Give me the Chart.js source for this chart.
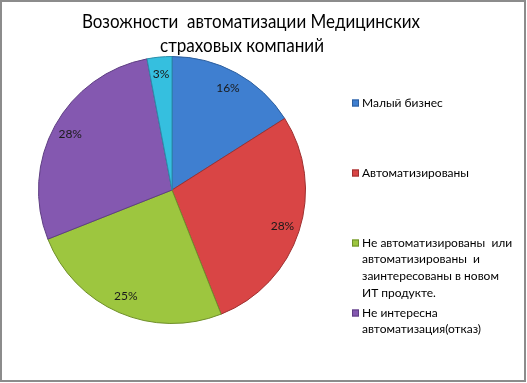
<!DOCTYPE html>
<html>
<head>
<meta charset="utf-8">
<script src="https://cdn.jsdelivr.net/npm/chart.js@4/dist/chart.umd.min.js"></script>
<style>
html,body{margin:0;padding:0;background:#fff;}
#wrap{position:absolute;left:0;top:0;width:527px;height:383px;}
</style>
</head>
<body>
<div id="wrap"><canvas id="c" width="527" height="383"></canvas></div>
<script>
const titleLines = ["Возожности  автоматизации Медицинских", "страховых компаний"];
const categories = [
  "Малый бизнес",
  "Автоматизированы",
  "Не автоматизированы  или автоматизированы  и заинтересованы в новом ИТ продукте.",
  "Не интересна автоматизация(отказ)",
  ""
];
const legendLines = [
  ["Малый бизнес"],
  ["Автоматизированы"],
  ["Не автоматизированы  или", "автоматизированы  и", "заинтересованы в новом", "ИТ продукте."],
  ["Не интересна", "автоматизация(отказ)"]
];
const values = [16, 28, 25, 28, 3];
const colors = ["#3f7fd0", "#d94545", "#9dc63f", "#8458b0", "#35bfdf"];
const borders = ["#2d5f9e", "#9e3030", "#6f8f2a", "#5e3e82", "#2a8eaa"];

const FONT = "Lato, 'Open Sans', sans-serif";

const decor = {
  id: 'decor',
  afterDraw(chart) {
    const ctx = chart.ctx;
    ctx.save();
    // frame
    ctx.strokeStyle = '#8c8c8c';
    ctx.lineWidth = 2;
    ctx.strokeRect(1, 1, 524, 380);
    // title
    ctx.fillStyle = '#000';
    ctx.textBaseline = 'alphabetic';
    ctx.textAlign = 'center';
    ctx.font = "19px " + FONT;
    ctx.fillText(titleLines[0], 251, 28, 338);
    ctx.fillText(titleLines[1], 242, 52, 164);
    // percent labels
    const meta = chart.getDatasetMeta(0);
    const total = values.reduce((a, b) => a + b, 0);
    ctx.font = "12px " + FONT;
    ctx.textAlign = 'center';
    ctx.textBaseline = 'middle';
    ctx.fillStyle = '#1a1a1a';
    meta.data.forEach((arc, i) => {
      const p = arc.getProps(['x', 'y', 'startAngle', 'endAngle', 'outerRadius'], true);
      const mid = (p.startAngle + p.endAngle) / 2;
      const r = p.outerRadius * 0.87;
      const pct = Math.round(values[i] / total * 100) + '%';
      ctx.fillText(pct, p.x + Math.cos(mid) * r, p.y + Math.sin(mid) * r);
    });
    // legend
    const starts = [103, 173, 243, 313];
    const lh = 16.6;
    ctx.textAlign = 'left';
    legendLines.forEach((lines, i) => {
      const y0 = starts[i];
      ctx.fillStyle = colors[i];
      ctx.fillRect(352, y0 - 3.5, 7, 7);
      ctx.strokeStyle = borders[i];
      ctx.lineWidth = 1;
      ctx.strokeRect(352.5, y0 - 3, 6, 6);
      ctx.fillStyle = '#000';
      lines.forEach((t, j) => ctx.fillText(t, 362, y0 + j * lh));
    });
    ctx.restore();
  }
};

new Chart(document.getElementById('c'), {
  type: 'pie',
  data: {
    labels: categories,
    datasets: [{
      data: values,
      backgroundColor: colors,
      borderColor: borders,
      borderWidth: 1
    }]
  },
  options: {
    responsive: false,
    animation: false,
    layout: { padding: { left: 38, right: 221, top: 56, bottom: 59 } },
    plugins: {
      legend: { display: false },
      title: { display: false },
      tooltip: { enabled: false }
    }
  },
  plugins: [decor]
});
</script>
</body>
</html>
